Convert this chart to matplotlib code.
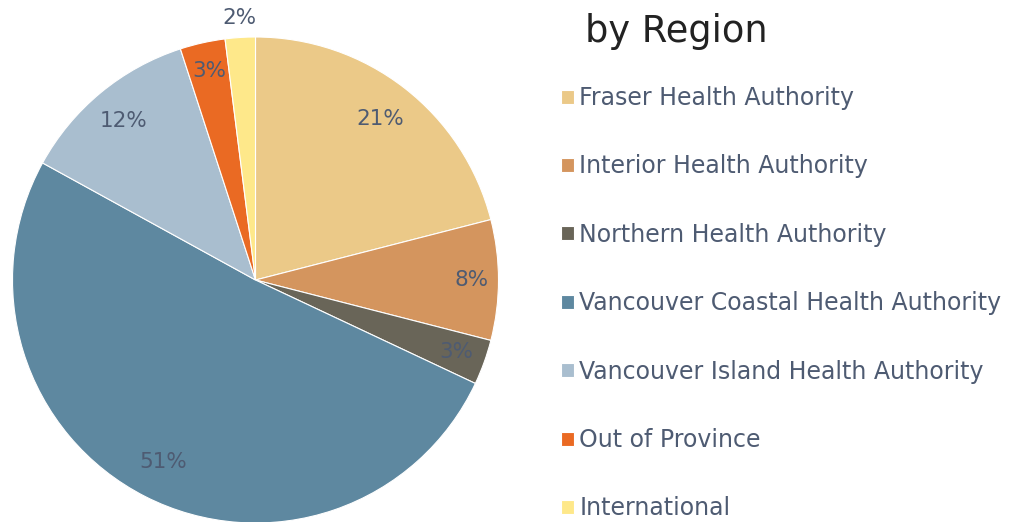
import numpy as np
import matplotlib.pyplot as plt

regions = ["Fraser Health Authority", "Interior Health Authority",
           "Northern Health Authority", "Vancouver Coastal Health Authority",
           "Vancouver Island Health Authority", "Out of Province", "International"]
shares = [21, 8, 3, 51, 12, 3, 2]
colors = ["#EBC988", "#D4955E", "#696558", "#5E88A0", "#A9BECF", "#EA6A23", "#FEE88A"]
lab_r = [0.84, 0.89, 0.88, 0.84, 0.85, 0.88, 1.08]  # label distance from centre

txt_col = "#4E5B72"
plt.rcParams['font.family'] = ['DejaVu Sans']

fig = plt.figure(figsize=(10.16, 5.22), dpi=100)
ax = fig.add_axes([255.5/1016 - 243/1016, (522-280-243)/522, 486/1016, 486/522])
wedges, _ = ax.pie(shares, colors=colors, startangle=90, counterclock=False,
                   radius=1, wedgeprops=dict(linewidth=0.8, edgecolor='white'))
ax.set_xlim(-1, 1)
ax.set_ylim(-1, 1)
ax.set_aspect('equal')
ax.axis('off')

tot = sum(shares)
cum = np.cumsum([0] + shares)
for i, v in enumerate(shares):
    mid = np.deg2rad(90 - 360*(cum[i] + v/2)/tot)
    ax.text(lab_r[i]*np.cos(mid), lab_r[i]*np.sin(mid), f"{v}%",
            ha='center', va='center', fontsize=15.5, color=txt_col, clip_on=False)

fig.text(585/1016, 1 - 31/522, "by Region", fontsize=26.5, color="#222222",
         ha='left', va='center')

leg = fig.legend(wedges, regions, loc='upper left', bbox_to_anchor=(561/1016, 1 - 86/522),
                 frameon=False, fontsize=17, labelspacing=1.88, handlelength=0.53,
                 handleheight=0.53, handletextpad=0.25, borderaxespad=0, borderpad=0)
for t in leg.get_texts():
    t.set_color(txt_col)

plt.savefig('out.png', dpi=100)
